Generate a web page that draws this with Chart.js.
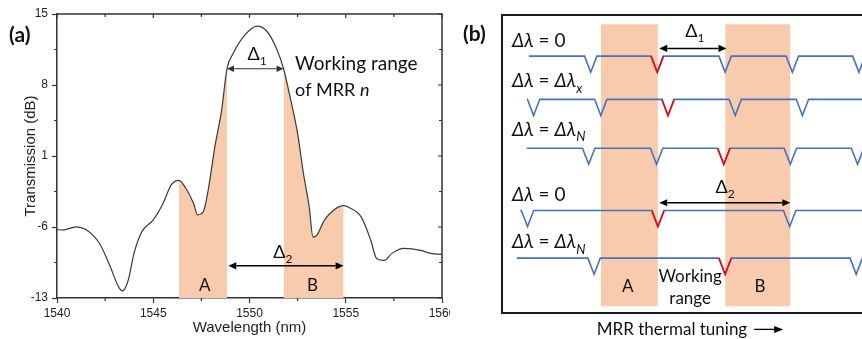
<!DOCTYPE html>
<html>
<head>
<meta charset="utf-8">
<script src="https://cdn.jsdelivr.net/npm/chart.js@4"></script>
<style>
  html, body { margin: 0; padding: 0; width: 862px; height: 339px; overflow: hidden; background: #fff; }
  #wa { position: absolute; left: 0; top: 0; width: 450px; height: 339px; }
  #wb { position: absolute; left: 450px; top: 0; width: 430px; height: 339px; }
  .tag { position: absolute; font: bold 21px Lato, sans-serif; color: #111; }
</style>
</head>
<body>
<div id="wa"><canvas id="ca"></canvas></div>
<div id="wb"><canvas id="cb"></canvas></div>
<div class="tag" style="left:9px;top:21px">(a)</div>
<div class="tag" style="left:463px;top:20px">(b)</div>
<script>
// ---- panel (a): measured transmission spectrum ----
const wavelength = [1540.0, 1540.3, 1541.0, 1541.5, 1542.2, 1542.7, 1543.2, 1543.4, 1543.7, 1544.0,
  1544.4, 1545.0, 1545.5, 1545.95, 1546.33, 1546.7, 1547.1, 1547.3, 1547.6, 1547.85,
  1548.2, 1548.55, 1548.83, 1549.15, 1549.7, 1550.4, 1550.9, 1551.4, 1551.77, 1552.1,
  1552.5, 1552.8, 1553.1, 1553.3, 1553.5, 1553.9, 1554.4, 1554.89, 1555.2, 1555.8,
  1556.3, 1556.6, 1557.0, 1557.4, 1558.0, 1558.9, 1559.4, 1560.0];
const transmission = [-6.25, -6.3, -5.98, -6.25, -7.6, -9.6, -11.9, -12.3, -11.25, -8.6,
  -6.5, -5.3, -3.7, -1.8, -1.4, -2.2, -3.7, -4.8, -4.5, -2.4,
  1.9, 5.5, 9.6, 11.1, 12.8, 13.8, 13.3, 11.6, 9.6, 6.9,
  3.2, -0.7, -4.0, -7.0, -6.8, -5.3, -4.3, -3.9, -4.1, -5.0,
  -7.3, -9.1, -9.3, -8.6, -8.1, -8.3, -8.6, -8.7];
const rangeA = [1546.33, 1548.83];
const rangeB = [1551.77, 1554.89];
const delta1A = [1548.83, 1551.77, 9.6];   // from, to, level
const delta2A = [1548.9, 1554.89, -9.83];
const xTicks = [1540, 1545, 1550, 1555, 1560];
const yTicks = [-13, -6, 1, 8, 15];

// ---- panel (b): resonance schematic (x in units of the first FSR) ----
const rowLevel = [8.62, 7.17, 5.53, 3.44, 1.84];
const rowStart = [-0.92, -0.95, -0.95, -1.05, -1.1];
const rowDips = [
  [0, 0.99, 2, 3, 3.99],
  [-0.85, 0.15, 1.15, 2.15, 3.15],
  [-0.03, 0.98, 1.98, 2.97, 3.97],
  [-0.94, 1, 2.96],
  [0.05, 2, 3.95]
];
const redDip = [0.99, 1.15, 1.98, 1, 2];
const bandA = [0.15, 1.0];
const bandB = [2.0, 2.97];
const bandY = [0.23, 9.69];
const delta1B = [1.02, 2.02, 8.88];
const delta2B = [1.02, 2.97, 3.70];

const dipHalf = 0.092, dipDepth = 0.54, rowEnd = 4.4;
const PEACH = '#F8CBAD', BLUE = '#4472C4', RED = '#FF0000';
const ANN = 'Lato, sans-serif';

function drawRuns(ctx, parts, x, y, size, align) {
  const font = st => (st.includes('i') ? 'italic ' : '') + (st.includes('s') ? Math.round(size * 0.68) : size) + 'px ' + ANN;
  let w = 0;
  parts.forEach(([t, st]) => { ctx.font = font(st); w += ctx.measureText(t).width; });
  let cx = align === 'center' ? x - w / 2 : x;
  ctx.textAlign = 'left';
  ctx.textBaseline = 'alphabetic';
  parts.forEach(([t, st]) => {
    ctx.font = font(st);
    ctx.fillText(t, cx, y + (st.includes('s') ? size * 0.28 : 0));
    cx += ctx.measureText(t).width;
  });
  return cx;
}

function hArrow(ctx, x1, x2, y, color, lw, head) {
  ctx.save();
  ctx.strokeStyle = color; ctx.fillStyle = color; ctx.lineWidth = lw;
  ctx.beginPath(); ctx.moveTo(x1 + head, y); ctx.lineTo(x2 - head, y); ctx.stroke();
  ctx.beginPath(); ctx.moveTo(x1, y); ctx.lineTo(x1 + head, y - head * 0.45); ctx.lineTo(x1 + head, y + head * 0.45); ctx.fill();
  ctx.beginPath(); ctx.moveTo(x2, y); ctx.lineTo(x2 - head, y - head * 0.45); ctx.lineTo(x2 - head, y + head * 0.45); ctx.fill();
  ctx.restore();
}

const curve = wavelength.map((w, i) => ({x: w, y: transmission[i]}));
const inRange = r => curve.filter(p => p.x >= r[0] && p.x <= r[1]);

const panelA = {
  id: 'panelA',
  afterDraw(chart) {
    const {ctx, chartArea: ca, scales: {x, y}} = chart;
    ctx.save();
    ctx.strokeStyle = '#333';
    ctx.lineWidth = 1.5;
    ctx.beginPath();
    ctx.moveTo(ca.left, ca.top); ctx.lineTo(ca.right, ca.top); ctx.lineTo(ca.right, ca.bottom);
    ctx.stroke();
    ctx.lineWidth = 1.2;
    ctx.beginPath();
    xTicks.forEach((v, i) => {
      const px = x.getPixelForValue(v);
      ctx.moveTo(px, ca.top); ctx.lineTo(px, ca.top + 4);
      if (i < xTicks.length - 1) {
        const m = x.getPixelForValue((v + xTicks[i + 1]) / 2);
        ctx.moveTo(m, ca.top); ctx.lineTo(m, ca.top + 3);
        ctx.moveTo(m, ca.bottom); ctx.lineTo(m, ca.bottom + 3);
      }
    });
    yTicks.forEach((v, i) => {
      const py = y.getPixelForValue(v);
      ctx.moveTo(ca.right, py); ctx.lineTo(ca.right - 4, py);
      if (i < yTicks.length - 1) {
        const m = y.getPixelForValue((v + yTicks[i + 1]) / 2);
        ctx.moveTo(ca.right, m); ctx.lineTo(ca.right - 3, m);
        ctx.moveTo(ca.left, m); ctx.lineTo(ca.left - 3, m);
      }
    });
    ctx.stroke();

    hArrow(ctx, x.getPixelForValue(delta1A[0]), x.getPixelForValue(delta1A[1]), y.getPixelForValue(delta1A[2]), '#333', 1.1, 7);
    hArrow(ctx, x.getPixelForValue(delta2A[0]), x.getPixelForValue(delta2A[1]), y.getPixelForValue(delta2A[2]), '#000', 1.5, 8);

    ctx.fillStyle = '#111';
    drawRuns(ctx, [['Δ', ''], ['1', 's']], x.getPixelForValue(1550.4), y.getPixelForValue(10.48), 18, 'center');
    drawRuns(ctx, [['Δ', ''], ['2', 's']], x.getPixelForValue(1551.73), y.getPixelForValue(-9.1), 18, 'center');
    drawRuns(ctx, [['Working range', '']], x.getPixelForValue(1552.37), y.getPixelForValue(9.5), 19, 'left');
    drawRuns(ctx, [['of MRR ', ''], ['n', 'i']], x.getPixelForValue(1552.37), y.getPixelForValue(6.96), 18, 'left');
    drawRuns(ctx, [['A', '']], x.getPixelForValue(1547.68), y.getPixelForValue(-12.3), 17, 'center');
    drawRuns(ctx, [['B', '']], x.getPixelForValue(1553.27), y.getPixelForValue(-12.3), 17, 'center');
    ctx.restore();
  }
};

new Chart(document.getElementById('ca'), {
  type: 'line',
  data: {
    datasets: [{
      data: curve,
      borderColor: '#3a3a3a',
      borderWidth: 1.2,
      pointRadius: 0,
      cubicInterpolationMode: 'monotone',
      fill: false,
      order: 0
    }, {
      data: inRange(rangeA),
      borderWidth: 0,
      pointRadius: 0,
      backgroundColor: PEACH,
      cubicInterpolationMode: 'monotone',
      fill: {value: -13},
      order: 1
    }, {
      data: inRange(rangeB),
      borderWidth: 0,
      pointRadius: 0,
      backgroundColor: PEACH,
      cubicInterpolationMode: 'monotone',
      fill: {value: -13},
      order: 1
    }]
  },
  options: {
    responsive: true,
    maintainAspectRatio: false,
    animation: false,
    layout: {padding: {top: 14, right: 8, left: 0, bottom: 0}},
    plugins: {legend: {display: false}, tooltip: {enabled: false}},
    scales: {
      x: {
        type: 'linear', min: 1540, max: 1560,
        afterBuildTicks: s => { s.ticks = xTicks.map(v => ({value: v})); },
        afterFit: s => { s.height = 41; s.paddingLeft = 0; s.paddingRight = 0; },
        grid: {drawOnChartArea: false, tickLength: 5, color: '#333', tickWidth: 1.2},
        border: {color: '#333', width: 1.5},
        ticks: {color: '#222', padding: 3, maxRotation: 0, callback: v => String(v),
                font: {family: 'Liberation Sans', size: 12}},
        title: {display: true, text: 'Wavelength (nm)', color: '#222', padding: {bottom: 2, top: 0},
                font: {family: 'Liberation Sans', size: 15}}
      },
      y: {
        min: -13, max: 15,
        afterBuildTicks: s => { s.ticks = yTicks.map(v => ({value: v})); },
        afterFit: s => { s.width = 57; s.paddingTop = 0; s.paddingBottom = 0; },
        grid: {drawOnChartArea: false, tickLength: 5, color: '#333', tickWidth: 1.2},
        border: {color: '#333', width: 1.5},
        ticks: {color: '#222', padding: 4, callback: v => String(v),
                font: {family: 'Liberation Sans', size: 12}},
        title: {display: true, text: 'Transmission (dB)', color: '#222', padding: {top: 22, bottom: 0},
                font: {family: 'Liberation Sans', size: 15}}
      }
    }
  },
  plugins: [panelA]
});

// ---- panel (b) datasets built from the dip lists ----
function rowPoints(r) {
  const lv = rowLevel[r];
  const pts = [{x: rowStart[r], y: lv}];
  rowDips[r].forEach(d => {
    pts.push({x: d - dipHalf, y: lv}, {x: d, y: lv - dipDepth}, {x: d + dipHalf, y: lv});
  });
  pts.push({x: rowEnd, y: lv});
  return pts;
}
function redPoints(r) {
  const lv = rowLevel[r], d = redDip[r];
  return [{x: d - dipHalf, y: lv}, {x: d, y: lv - dipDepth}, {x: d + dipHalf, y: lv}];
}
function band(b) {
  return {
    data: [{x: b[0], y: bandY[1]}, {x: b[1], y: bandY[1]}],
    borderWidth: 0, pointRadius: 0, backgroundColor: PEACH,
    fill: {value: bandY[0]}, order: 5
  };
}

const datasetsB = [band(bandA), band(bandB)];
rowLevel.forEach((lv, r) => {
  datasetsB.push({data: rowPoints(r), borderColor: BLUE, borderWidth: 1.6, pointRadius: 0, fill: false, order: 2});
  datasetsB.push({data: redPoints(r), borderColor: RED, borderWidth: 1.6, pointRadius: 0, fill: false, order: 1});
});

const rowLabels = [
  [['Δλ', 'i'], [' = 0', '']],
  [['Δλ', 'i'], [' = ', ''], ['Δλ', 'i'], ['x', 'is']],
  [['Δλ', 'i'], [' = ', ''], ['Δλ', 'i'], ['N', 'is']],
  [['Δλ', 'i'], [' = 0', '']],
  [['Δλ', 'i'], [' = ', ''], ['Δλ', 'i'], ['N', 'is']]
];
const rowLabelY = [8.94, 7.57, 5.94, 3.76, 2.17];

const panelB = {
  id: 'panelB',
  afterDraw(chart) {
    const {ctx, chartArea: ca, scales: {x, y}} = chart;
    ctx.save();
    ctx.strokeStyle = '#1a1a1a';
    ctx.lineWidth = 2;
    ctx.strokeRect(ca.left, ca.top, ca.right - ca.left, ca.bottom - ca.top);

    hArrow(ctx, x.getPixelForValue(delta1B[0]), x.getPixelForValue(delta1B[1]), y.getPixelForValue(delta1B[2]), '#000', 1.5, 8);
    hArrow(ctx, x.getPixelForValue(delta2B[0]), x.getPixelForValue(delta2B[1]), y.getPixelForValue(delta2B[2]), '#000', 1.5, 8);

    ctx.fillStyle = '#111';
    rowLabels.forEach((parts, i) => drawRuns(ctx, parts, x.getPixelForValue(-1.17), y.getPixelForValue(rowLabelY[i]), 19, 'left'));
    drawRuns(ctx, [['Δ', ''], ['1', 's']], x.getPixelForValue(1.55), y.getPixelForValue(9.25), 18, 'center');
    drawRuns(ctx, [['Δ', ''], ['2', 's']], x.getPixelForValue(2.0), y.getPixelForValue(4.04), 18, 'center');
    drawRuns(ctx, [['A', '']], x.getPixelForValue(0.55), y.getPixelForValue(0.71), 17, 'center');
    drawRuns(ctx, [['B', '']], x.getPixelForValue(2.52), y.getPixelForValue(0.71), 17, 'center');
    drawRuns(ctx, [['Working', '']], x.getPixelForValue(1.48), y.getPixelForValue(1.05), 17, 'center');
    drawRuns(ctx, [['range', '']], x.getPixelForValue(1.48), y.getPixelForValue(0.3), 17, 'center');
    const end = drawRuns(ctx, [['MRR thermal tuning', '']], x.getPixelForValue(0.09), y.getPixelForValue(-0.74), 17, 'left');
    // small direction arrow after the caption
    const ay = y.getPixelForValue(-0.55);
    ctx.strokeStyle = '#000'; ctx.fillStyle = '#000'; ctx.lineWidth = 1.3;
    ctx.beginPath(); ctx.moveTo(end + 7, ay); ctx.lineTo(end + 29, ay); ctx.stroke();
    ctx.beginPath(); ctx.moveTo(end + 36, ay); ctx.lineTo(end + 27, ay - 3.5); ctx.lineTo(end + 27, ay + 3.5); ctx.fill();
    ctx.restore();
  }
};

new Chart(document.getElementById('cb'), {
  type: 'line',
  data: {datasets: datasetsB},
  options: {
    responsive: true,
    maintainAspectRatio: false,
    animation: false,
    layout: {padding: {left: 52, top: 15, right: 7, bottom: 26}},
    plugins: {legend: {display: false}, tooltip: {enabled: false}},
    scales: {
      x: {type: 'linear', min: -1.32, max: 4.2, display: false},
      y: {min: 0, max: 10, display: false}
    }
  },
  plugins: [panelB]
});
</script>
</body>
</html>
